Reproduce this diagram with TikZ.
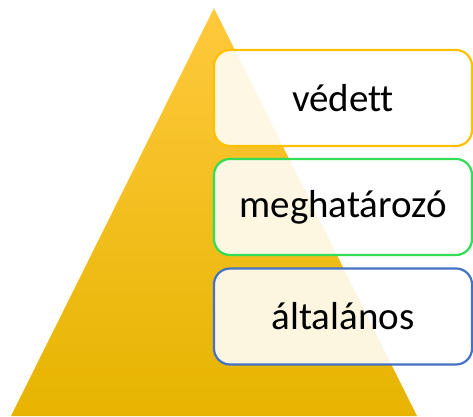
\documentclass[tikz,border=0pt]{standalone}
\usepackage{fontspec}
\setmainfont{Carlito}[Ligatures={NoCommon}]
\definecolor{triTop}{HTML}{FFC93D}
\definecolor{triBot}{HTML}{E6B400}
\definecolor{bYellow}{HTML}{FFC000}
\definecolor{bGreen}{HTML}{33DD55}
\definecolor{bBlue}{HTML}{4472C4}
\tikzset{
  levelbox/.style={draw, line width=2.2pt, rounded corners=16pt, fill=white, fill opacity=0.87, text opacity=1,
    minimum width=258pt, minimum height=96pt, inner sep=0pt, font=\fontsize{39}{43}\selectfont, text=black}
}
\begin{document}
\begin{tikzpicture}[x=1pt,y=1pt]
\useasboundingbox (0,0) rectangle (473,-416);
\coordinate (apex) at (214,-8);
\coordinate (bl) at (11,-416);
\coordinate (br) at (417,-416);
\shade[top color=triTop, bottom color=triBot] (apex) -- (br) -- (bl) -- cycle;
\node[levelbox, draw=bYellow] (v) at (343,-98) {védett};
\node[levelbox, draw=bGreen] (m) at (343,-207) {meghatározó};
\node[levelbox, draw=bBlue] (a) at (343,-316.5) {általános};
\end{tikzpicture}
\end{document}
